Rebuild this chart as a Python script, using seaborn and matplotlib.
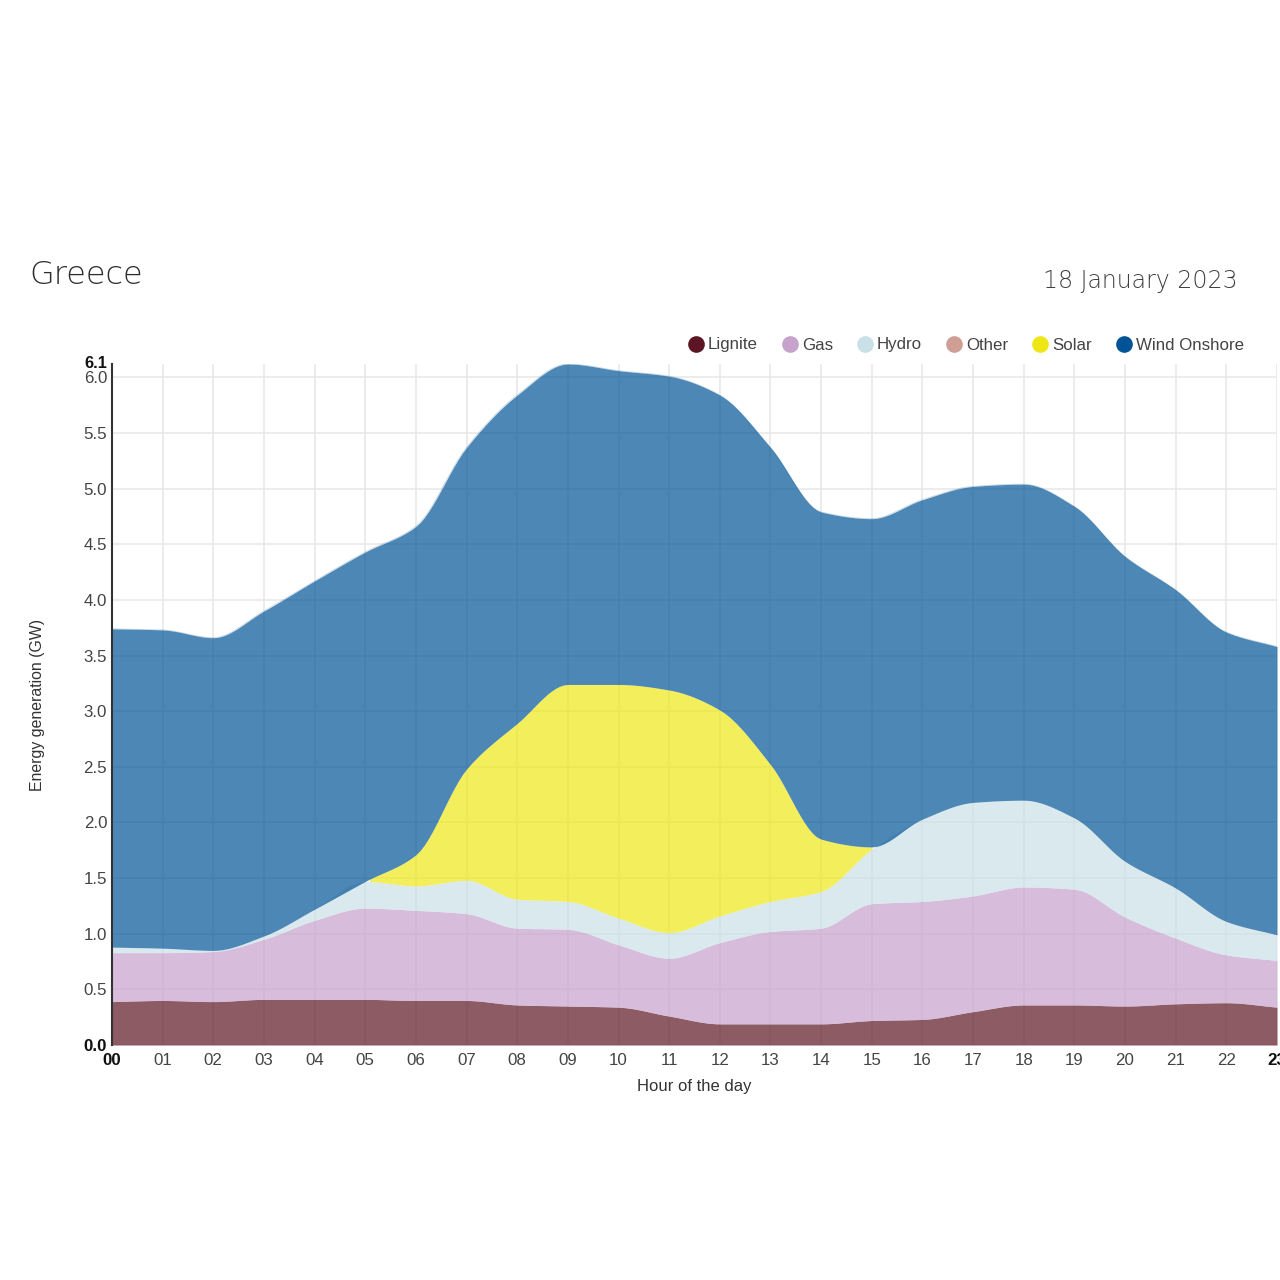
import numpy as np
import pandas as pd
import matplotlib
matplotlib.use("Agg")
import matplotlib.pyplot as plt
import seaborn as sns
from matplotlib.lines import Line2D
from matplotlib.transforms import ScaledTranslation

# hourly generation per source, GW
hour_labels = [f"{h:02d}" for h in range(24)]
lignite = [.39, .40, .39, .41, .41, .41, .40, .40, .36, .35, .34, .26, .19, .19, .19, .22, .23, .30, .36, .36, .35, .37, .38, .34]
gas = [.44, .43, .45, .54, .71, .82, .81, .78, .69, .69, .56, .52, .73, .83, .86, 1.05, 1.06, 1.04, 1.06, 1.04, .80, .59, .43, .42]
hydro = [.05, .04, .01, .03, .10, .24, .22, .30, .26, .25, .24, .23, .24, .27, .33, .49, .74, .84, .78, .64, .50, .45, .30, .23]
other = [0] * 24
solar = [0, 0, 0, 0, 0, 0, .28, 1.00, 1.58, 1.95, 2.10, 2.18, 1.85, 1.23, .47, .02, 0, 0, 0, 0, 0, 0, 0, 0]
wind = [2.86, 2.86, 2.81, 2.92, 2.95, 2.96, 2.95, 2.89, 2.95, 2.88, 2.82, 2.82, 2.83, 2.85, 2.94, 2.95, 2.87, 2.84, 2.84, 2.80, 2.74, 2.68, 2.60, 2.59]

source_names = ["Lignite", "Gas", "Hydro", "Other", "Solar", "Wind Onshore"]
source_colors = ["#5c1623", "#c6a2cc", "#cae0e7", "#cf9f96", "#eee715", "#005496"]
y_ticks = [i / 2 for i in range(13)]
y_top = 6.12

sns.set_theme(style="white")
plt.rcParams["font.family"] = ["Liberation Sans", "DejaVu Sans"]


def monotone_curve(y, per_hour=12):
    # same curve the web chart uses between the hourly values (monotone cubic)
    x = np.arange(len(y), dtype=float)
    y = np.asarray(y, dtype=float)
    s = np.diff(y)
    m = np.zeros_like(y)
    for i in range(1, len(y) - 1):
        if s[i - 1] * s[i] > 0:
            m[i] = 2 * s[i - 1] * s[i] / (s[i - 1] + s[i])
    m[0], m[-1] = s[0], s[-1]
    xs = np.linspace(0, len(y) - 1, (len(y) - 1) * per_hour + 1)
    idx = np.minimum(xs.astype(int), len(y) - 2)
    t = xs - x[idx]
    ys = ((2 * t**3 - 3 * t**2 + 1) * y[idx] + (t**3 - 2 * t**2 + t) * m[idx]
          + (-2 * t**3 + 3 * t**2) * y[idx + 1] + (t**3 - t**2) * m[idx + 1])
    return xs, ys


fig = plt.figure(figsize=(12.8, 12.8), dpi=100)
ax = fig.add_axes([112 / 1280, 1 - 1045 / 1280, (1277 - 112) / 1280, (1045 - 364) / 1280])

tops = np.cumsum([lignite, gas, hydro, other, solar, wind], axis=0)
curves = []
prev = None
for name, color, top in zip(source_names, source_colors, tops):
    xs, ys = monotone_curve(top)
    base = np.zeros_like(ys) if prev is None else prev
    if name != "Other":
        ax.fill_between(xs, base, ys, where=ys > base + 1e-4, color=color, alpha=0.7, lw=0, zorder=2)
    curves.append(pd.DataFrame({"hour": xs, "top": ys, "source": name}))
    prev = ys

# thin edge on top of the wind area only, rest blends in
edge = curves[-1]
sns.lineplot(data=edge, x="hour", y="top", color=source_colors[-1], alpha=0.25, lw=0.6,
             estimator=None, sort=False, legend=False, ax=ax, zorder=3)

ax.set_xlim(0, 23)
ax.set_ylim(0, y_top)
ax.set_xticks(range(24))
ax.set_xticklabels(hour_labels)
ax.set_yticks(y_ticks)
ax.set_yticklabels([f"{v:.1f}" for v in y_ticks])
ax.set_yticks([y_top], labels=["6.1"], minor=True)
ax.grid(True, color="#e9e9e9", lw=1.2, zorder=1)
ax.set_axisbelow(True)
ax.tick_params(axis="both", which="both", length=0, labelsize=12.2, labelcolor="#444444")
ax.tick_params(axis="y", which="both", pad=3.5)
ax.tick_params(axis="x", pad=6)
for lab in [ax.get_xticklabels()[0], ax.get_xticklabels()[-1], ax.get_yticklabels()[0]]:
    lab.set_fontweight("bold")
    lab.set_color("#111111")
for lab in ax.get_yticklabels(minor=True):
    lab.set_fontweight("bold")
    lab.set_color("#111111")
    lab.set_fontsize(11.8)
    lab.set_transform(lab.get_transform() + ScaledTranslation(0, 1.5 / 72, fig.dpi_scale_trans))

for side in ["top", "right", "bottom"]:
    ax.spines[side].set_visible(False)
ax.spines["left"].set_color("#333333")
ax.spines["left"].set_linewidth(1.5)
ax.set_xlabel("")
ax.set_ylabel("")

fig.text(694 / 1280, 1 - 1087 / 1280, "Hour of the day", ha="center", va="center", fontsize=12, color="#333333")
fig.text(38 / 1280, 1 - 705 / 1280, "Energy generation (GW)", rotation=90, ha="center", va="center", fontsize=11.4, color="#333333")
fig.text(29 / 1280, 1 - 275 / 1280, "Greece", ha="left", va="center", fontsize=23, color="#2e2e2e",
         family="DejaVu Sans", weight="light")
fig.text(1238 / 1280, 1 - 281 / 1280, "18 January 2023", ha="right", va="center", fontsize=17, color="#404040",
         family="DejaVu Sans", weight="light")

handles = [Line2D([], [], ls="", marker="o", ms=12, mfc=c, mec="none", label=n)
           for n, c in zip(source_names, source_colors)]
fig.legend(handles=handles, ncol=6, loc="center right", bbox_to_anchor=(1244 / 1280, 1 - 345 / 1280),
           frameon=False, fontsize=12.2, labelcolor="#444444", handletextpad=-0.3,
           columnspacing=0.9, borderpad=0, borderaxespad=0)

fig.savefig("out.png", dpi=100, facecolor="white")
